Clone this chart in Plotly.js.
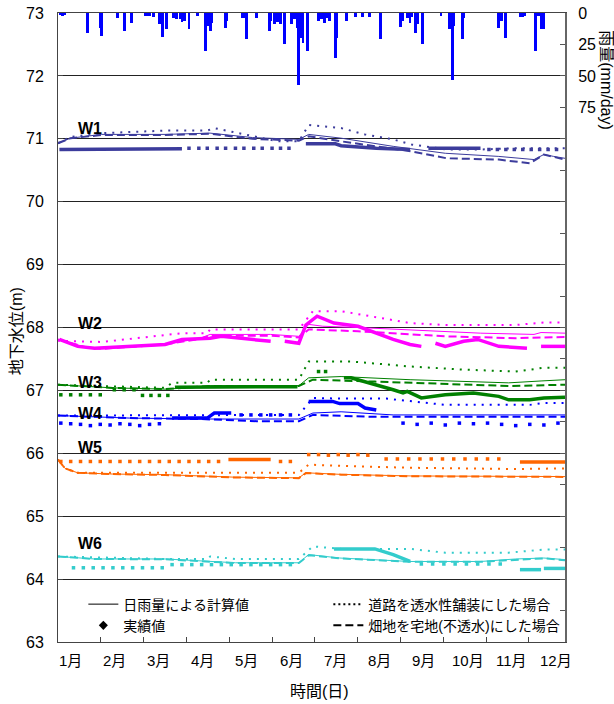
<!DOCTYPE html>
<html><head><meta charset="utf-8">
<script src="https://cdn.plot.ly/plotly-3.0.1.min.js"></script>
<style>html,body{margin:0;padding:0;background:#fff}#chart{width:614px;height:704px}</style>
</head><body><div id="chart"></div>
<script>
// ---------- rainfall (mm/day) ----------
const rainDay = [2,3,5,21,30,31,42,47,52,62,63,65,68,72,74,77,82,84,87,88,90,93,99,105,106,108,109,119,120,131,133,134,141,150,151,154,156,158,161,166,168,170,171,172,174,177,185,187,189,191,193,197,198,205,211,216,221,229,243,245,248,250,251,254,255,259,272,278,280,281,287,288,313,315,318,328,330,331,339,341,343,345];
const rainMm  = [1.5,2,1.5,16,12,18.5,4,14.5,8,2,2,2,3,9,19,13,4,5,5,7,6,12.5,2,30.5,10,14.5,8,12,6,4,4,21,4,14.5,6,9,7,9,24.5,9,5,12,57,20,24,30,6,5,8,4,6,36,20,6,3,3,3,21,11,6,4,8,3,16,9,24.6,2,13,53,10,21,4,12,6,20,3,3,2,30,2,13,13];

// ---------- month labels ----------
const monthLabels = ['1月','2月','3月','4月','5月','6月','7月','8月','9月','10月','11月','12月'];

// ---------- well labels ----------
const wellNames = ['W1','W2','W3','W4','W5','W6'];
const wellLabelLevel = [71.16, 68.07, 67.12, 66.63, 66.09, 64.56];
const wellColors = ['#3c3c9c','#ff00ff','#008000','#0000ff','#ff6600','#33cccc'];

// ---------- W1 ----------
const w1CalcDay = [0,9,31,76,108,138,171,178,201,238,275,313,338,345,352,360];
const w1CalcVal = [70.93,71.01,71.07,71.07,71.09,71.02,70.99,71.07,71.01,70.88,70.77,70.72,70.67,70.75,70.72,70.69];
const w1DashDay = [0,9,31,76,108,138,171,178,201,251,276,313,335,345,360];
const w1DashVal = [70.93,71.01,71.06,71.06,71.08,71.0,70.97,71.04,70.96,70.8,70.69,70.67,70.61,70.75,70.67];
const w1DotDay  = [0,9,31,76,106,111,156,171,178,201,218,238,251,276,300,325,360];
const w1DotVal  = [70.93,71.03,71.09,71.13,71.13,71.17,70.96,70.96,71.22,71.17,71.07,70.99,70.91,70.83,70.83,70.85,70.85];
const w1ObsLineDay = [1,88,null,176,197,201,226,250,null,263,300];
const w1ObsLineVal = [70.83,70.84,null,70.92,70.92,70.89,70.85,70.83,null,70.85,70.85];
const w1ObsDotDay = [93,100,106,113,119,126,132,139,145,152,158,164,306,312,318,324,330,336,342,348,354];
const w1ObsDotVal = [70.85,70.85,70.85,70.85,70.85,70.85,70.85,70.85,70.85,70.85,70.85,70.85,70.83,70.83,70.83,70.83,70.83,70.83,70.83,70.83,70.83];

// ---------- W2 ----------
const w2CalcDay = [0,21,31,76,101,108,151,171,178,188,213,275,300,338,343,360];
const w2CalcVal = [67.81,67.68,67.66,67.73,67.83,67.89,67.89,67.86,68.05,68.02,68.0,67.93,67.91,67.89,67.92,67.91];
const w2DashDay = [0,21,31,76,101,108,151,171,178,213,275,325,360];
const w2DashVal = [67.81,67.68,67.66,67.73,67.82,67.87,67.87,67.84,67.97,67.94,67.86,67.83,67.85];
const w2DotDay  = [0,31,88,106,108,171,181,201,250,275,325,345,360];
const w2DotVal  = [67.79,67.77,67.91,67.91,67.97,67.97,68.26,68.26,68.07,68.04,68.04,68.08,68.08];
const w2ObsLineDay = [1,14,26,76,88,108,116,151,null,161,171,176,184,196,205,213,238,250,258,null,268,275,288,298,313,333,null,343,360];
const w2ObsLineVal = [67.81,67.70,67.67,67.73,67.81,67.83,67.86,67.78,null,67.78,67.75,68.04,68.18,68.07,68.04,68.02,67.81,67.73,67.70,null,67.75,67.70,67.78,67.81,67.70,67.67,null,67.70,67.70];
const w2ObsDotDay = [];
const w2ObsDotVal = [];

// ---------- W3 ----------
const w3CalcDay = [0,39,76,101,108,171,178,201,250,300,320,343,360];
const w3CalcVal = [67.09,67.04,67.02,67.05,67.075,67.075,67.2,67.22,67.17,67.14,67.12,67.15,67.17];
const w3DashDay = [0,39,76,101,108,171,181,225,300,320,360];
const w3DashVal = [67.09,67.04,67.02,67.05,67.07,67.07,67.17,67.14,67.09,67.07,67.09];
const w3DotDay  = [0,76,81,106,108,171,178,208,250,288,325,345,360];
const w3DotVal  = [67.09,67.04,67.12,67.12,67.17,67.17,67.46,67.46,67.38,67.33,67.30,67.36,67.36];
const w3ObsLineDay = [83,170,null,203,208,238,245,248,258,275,295,313,320,335,345,360];
const w3ObsLineVal = [67.05,67.06,null,67.20,67.20,67.01,66.96,66.985,66.88,66.93,66.96,66.905,66.85,66.85,66.88,66.89];
const w3ObsDotDay = [2,9,16,23,30,40,47,54,60,66,72,78,185,190];
const w3ObsDotVal = [66.93,66.93,66.93,66.93,66.93,67.01,67.01,67.01,66.92,66.92,66.92,66.92,67.30,67.30];

// ---------- W4 ----------
const w4CalcDay = [0,51,101,171,181,201,238,360];
const w4CalcVal = [66.6,66.56,66.545,66.545,66.64,66.66,66.61,66.61];
const w4DashDay = [0,51,101,141,171,181,225,360];
const w4DashVal = [66.6,66.56,66.545,66.51,66.51,66.61,66.58,66.58];
const w4DotDay  = [0,76,171,181,201,233,250,275,335,345,360];
const w4DotVal  = [66.6,66.6,66.61,66.88,66.87,66.87,66.825,66.77,66.77,66.80,66.80];
const w4ObsLineDay = [81,106,111,123,null,178,195,200,213,218,226];
const w4ObsLineVal = [66.56,66.56,66.64,66.64,null,66.825,66.825,66.79,66.79,66.72,66.69];
const w4ObsDotDay = [2,9,16,23,30,37,44,51,58,65,72,130,137,144,151,158,165,245,255,265,275,285,295,305,315,325,335,345,355];
const w4ObsDotVal = [66.48,66.47,66.46,66.44,66.46,66.45,66.47,66.46,66.44,66.46,66.47,66.61,66.61,66.61,66.61,66.61,66.61,66.48,66.46,66.48,66.45,66.48,66.47,66.48,66.46,66.44,66.46,66.45,66.48];

// ---------- W5 ----------
const w5CalcDay = [0,5,14,39,76,106,126,171,176,201,250,360];
const w5CalcVal = [65.9,65.76,65.69,65.67,65.66,65.63,65.62,65.61,65.69,65.665,65.64,65.63];
const w5DashDay = [0,5,14,39,76,106,126,171,176,201,250,360];
const w5DashVal = [65.9,65.76,65.69,65.67,65.655,65.625,65.615,65.605,65.685,65.66,65.635,65.625];
const w5DotDay  = [0,5,14,76,106,171,178,201,250,325,360];
const w5DotVal  = [65.9,65.76,65.69,65.69,65.70,65.69,65.82,65.80,65.77,65.75,65.76];
const w5ObsLineDay = [121,151,null,328,360];
const w5ObsLineVal = [65.90,65.90,null,65.86,65.86];
const w5ObsDotDay = [2,9,16,23,30,37,44,51,58,65,72,79,86,93,100,107,114,158,165,178,185,192,199,206,213,220,233,241,249,257,265,273,281,289,297,305,313];
const w5ObsDotVal = [65.87,65.87,65.87,65.87,65.87,65.87,65.87,65.87,65.87,65.87,65.87,65.87,65.87,65.87,65.87,65.87,65.87,65.87,65.87,65.98,65.98,65.97,65.98,65.97,65.98,65.97,65.91,65.91,65.91,65.91,65.91,65.91,65.91,65.91,65.91,65.91,65.91];

// ---------- W6 ----------
const w6CalcDay = [0,26,76,106,126,171,178,200,250,300,325,345,360];
const w6CalcVal = [64.36,64.32,64.32,64.28,64.26,64.26,64.39,64.335,64.28,64.28,64.32,64.335,64.31];
const w6DashDay = [0,26,76,106,126,171,178,200,250,300,325,345,360];
const w6DashVal = [64.36,64.32,64.315,64.275,64.255,64.255,64.38,64.33,64.275,64.275,64.31,64.33,64.30];
const w6DotDay  = [0,76,106,108,126,171,181,201,250,275,320,345,360];
const w6DotVal  = [64.36,64.32,64.32,64.36,64.32,64.32,64.52,64.48,64.48,64.42,64.42,64.47,64.47];
const w6ObsLineDay = [196,225,238,250,null,328,343,null,345,360];
const w6ObsLineVal = [64.48,64.48,64.39,64.28,null,64.15,64.15,null,64.17,64.17];
const w6ObsDotDay = [11,18,25,32,39,46,53,60,67,74,81,88,95,102,109,116,123,130,137,144,151,158,165,258,266,274,282,290,298,306,314];
const w6ObsDotVal = [64.18,64.18,64.18,64.18,64.18,64.18,64.18,64.18,64.18,64.18,64.23,64.23,64.23,64.23,64.23,64.23,64.23,64.23,64.23,64.23,64.23,64.23,64.23,64.24,64.24,64.24,64.24,64.24,64.24,64.24,64.24];

const wells = [
  [w1CalcDay,w1CalcVal,w1DashDay,w1DashVal,w1DotDay,w1DotVal,w1ObsLineDay,w1ObsLineVal,w1ObsDotDay,w1ObsDotVal],
  [w2CalcDay,w2CalcVal,w2DashDay,w2DashVal,w2DotDay,w2DotVal,w2ObsLineDay,w2ObsLineVal,w2ObsDotDay,w2ObsDotVal],
  [w3CalcDay,w3CalcVal,w3DashDay,w3DashVal,w3DotDay,w3DotVal,w3ObsLineDay,w3ObsLineVal,w3ObsDotDay,w3ObsDotVal],
  [w4CalcDay,w4CalcVal,w4DashDay,w4DashVal,w4DotDay,w4DotVal,w4ObsLineDay,w4ObsLineVal,w4ObsDotDay,w4ObsDotVal],
  [w5CalcDay,w5CalcVal,w5DashDay,w5DashVal,w5DotDay,w5DotVal,w5ObsLineDay,w5ObsLineVal,w5ObsDotDay,w5ObsDotVal],
  [w6CalcDay,w6CalcVal,w6DashDay,w6DashVal,w6DotDay,w6DotVal,w6ObsLineDay,w6ObsLineVal,w6ObsDotDay,w6ObsDotVal]
];

const FONT = 'Liberation Sans, Noto Sans CJK JP, sans-serif';
const traces = [];
wells.forEach((w, i) => {
  const c = wellColors[i];
  traces.push({x:w[2], y:w[3], mode:'lines', line:{color:c, width:2, dash:'8px,4px'}, showlegend:false, hoverinfo:'skip'});
  traces.push({x:w[4], y:w[5], mode:'lines', line:{color:c, width:2, dash:'2px,6px'}, showlegend:false, hoverinfo:'skip'});
  traces.push({x:w[0], y:w[1], mode:'lines', line:{color:c, width:1}, showlegend:false, hoverinfo:'skip'});
  traces.push({x:w[6], y:w[7], mode:'lines', line:{color:c, width:3.5}, connectgaps:false, showlegend:false, hoverinfo:'skip'});
  traces.push({x:w[8], y:w[9], mode:'markers', marker:{color:c, size:3.5, symbol:'square'}, showlegend:false, hoverinfo:'skip'});
});
// legend entries
traces.push({x:[null], y:[null], mode:'lines', name:'日雨量による計算値', line:{color:'#000', width:1}});
traces.push({x:[null], y:[null], mode:'lines', name:'道路を透水性舗装にした場合', line:{color:'#000', width:2, dash:'2px,3px'}});
traces.push({x:[null], y:[null], mode:'markers', name:'実績値', marker:{color:'#000', size:7, symbol:'diamond'}});
traces.push({x:[null], y:[null], mode:'lines', name:'畑地を宅地(不透水)にした場合', line:{color:'#000', width:2, dash:'8px,4px'}});
// rainfall
traces.push({type:'bar', x:rainDay, y:rainMm, yaxis:'y2', width:2, marker:{color:'#0000ff', line:{width:0}}, showlegend:false, hoverinfo:'skip'});

const monthTicks = monthLabels.slice(1).map((_, i) => (i + 1) * 30.4);
const annotations = [];
monthLabels.forEach((m, i) => annotations.push({
  text:m, x:8.9 + 31.32 * i, xref:'x', y:-0.030, yref:'paper', xanchor:'center', yanchor:'middle',
  showarrow:false, font:{size:15, color:'#000', family:FONT}
}));
wellNames.forEach((n, i) => annotations.push({
  text:'<b>'+n+'</b>', x:23, xref:'x', y:wellLabelLevel[i], yref:'y', xanchor:'center', yanchor:'middle',
  showarrow:false, font:{size:16, color:'#000', family:FONT}
}));
annotations.push({text:'時間(日)', x:0.515, xref:'paper', y:-0.078, yref:'paper', xanchor:'center', yanchor:'middle', showarrow:false, font:{size:16, color:'#000', family:FONT}});
annotations.push({text:'地下水位(m)', x:-0.083, xref:'paper', y:0.494, yref:'paper', xanchor:'center', yanchor:'middle', textangle:-90, showarrow:false, font:{size:16, color:'#000', family:FONT}});
annotations.push({text:'雨量(mm/day)', x:1.083, xref:'paper', y:0.893, yref:'paper', xanchor:'center', yanchor:'middle', textangle:90, showarrow:false, font:{size:16, color:'#000', family:FONT}});

const rainTicks = [];
const rainText = [];
for (let v = 0; v <= 500; v += 25) { rainTicks.push(v); rainText.push(v <= 75 ? String(v) : ''); }

const layout = {
  width:614, height:704,
  margin:{l:58, r:49, t:13, b:62},
  paper_bgcolor:'#fff', plot_bgcolor:'#fff',
  font:{family:FONT, color:'#000', size:15},
  showlegend:true,
  legend:{orientation:'h', x:0.05, y:0.085, xanchor:'left', yanchor:'top', entrywidth:200, entrywidthmode:'pixels',
          font:{size:14, color:'#000', family:FONT}, bgcolor:'rgba(0,0,0,0)', traceorder:'normal', tracegroupgap:0},
  xaxis:{range:[0,360], tickvals:monthTicks, showticklabels:false, ticks:'inside', ticklen:5, tickcolor:'#444',
         showgrid:false, zeroline:false, showline:true, mirror:true, linecolor:'#444', linewidth:1},
  yaxis:{range:[63,73], tickvals:[63,64,65,66,67,68,69,70,71,72,73], ticks:'inside', ticklen:5, tickcolor:'#444',
         showgrid:true, gridcolor:'#222', gridwidth:1, zeroline:false, showline:true, linecolor:'#444', linewidth:1,
         tickfont:{size:16, family:FONT}, ticklabelstandoff:10},
  yaxis2:{overlaying:'y', side:'right', range:[500,0], tickvals:rainTicks, ticktext:rainText, ticks:'inside', ticklen:5,
          tickcolor:'#555', showgrid:false, zeroline:false, showline:true, linecolor:'#666', linewidth:2,
          tickfont:{size:16, family:FONT}, ticklabelstandoff:8},
  bargap:0,
  annotations:annotations
};
Plotly.newPlot('chart', traces, layout, {displayModeBar:false, staticPlot:true});
</script></body></html>
